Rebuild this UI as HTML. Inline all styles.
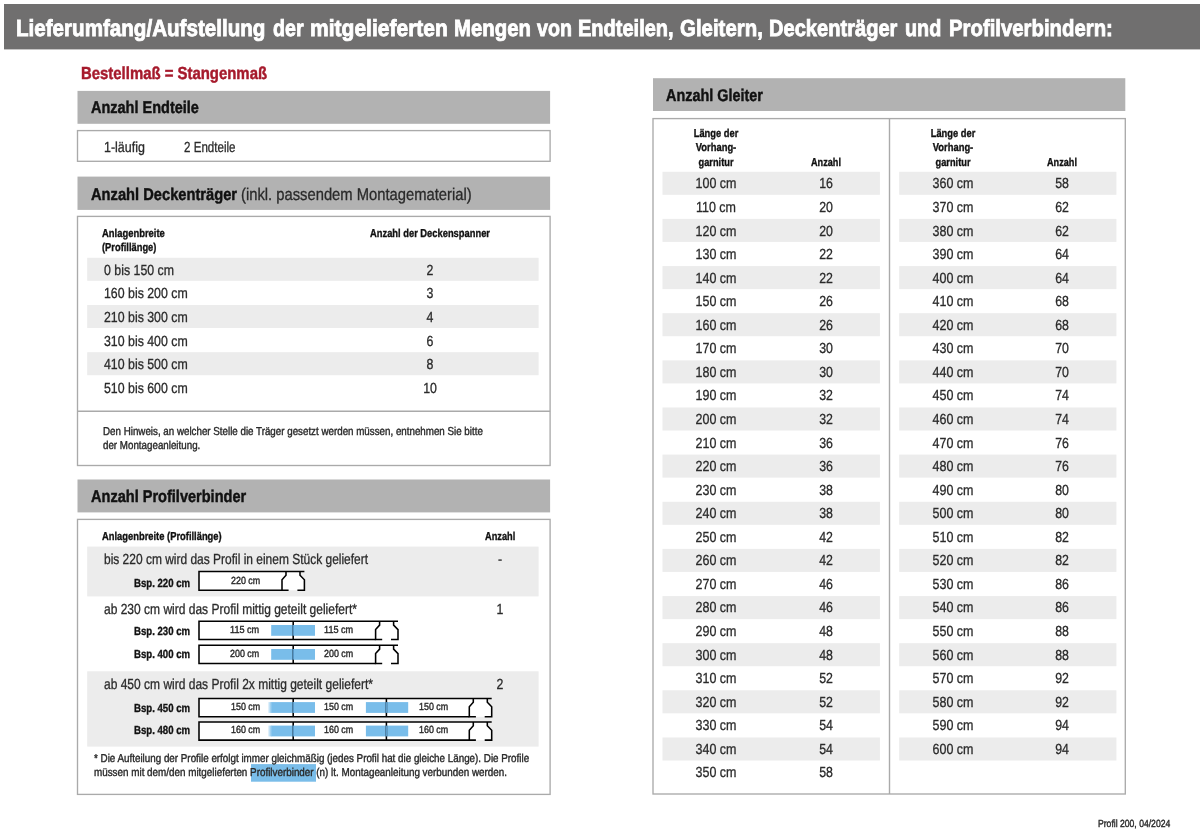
<!DOCTYPE html><html lang="de"><head><meta charset="utf-8"><title>Lieferumfang</title><style>
*{margin:0;padding:0;box-sizing:border-box}
html,body{width:1200px;height:833px;background:#fff;overflow:hidden}
body{position:relative;font-family:"Liberation Sans",sans-serif;color:#2a2a2a}
span.t,svg{position:absolute}
.t{white-space:nowrap;line-height:1;text-rendering:geometricPrecision;transform-origin:0 50%}
.t.c{transform-origin:50% 50%}
.t{-webkit-text-stroke:.3px currentColor}
.s{-webkit-text-stroke-width:.4px}
.b{font-weight:bold;color:#111;-webkit-text-stroke-width:.35px}
.h{-webkit-text-stroke-width:.45px}
.tt{-webkit-text-stroke-width:.85px}
.ban{fill:#706f6f}
.hd{fill:#b2b2b2}
.bx{fill:#fff;stroke:#aaa;stroke-width:1.35}
.ln{fill:#aaa}
.st{fill:#ececec}
.hl{fill:#7abde9}
.pw{fill:#fff;stroke:none}
.pl{fill:none;stroke:#000;stroke-width:1.55}
.pb{fill:#79bdea}
.pg{fill:url(#g)}
.pd{fill:none;stroke:#5b9ccc;stroke-width:1.55}

</style></head><body>
<svg width="1200" height="833" viewBox="0 0 1200 833" style="left:0;top:0"><defs><linearGradient id="g"><stop offset="0" stop-color="#79bdea" stop-opacity="0"/><stop offset="1" stop-color="#79bdea"/></linearGradient></defs>
<rect class="ban" x="4.0" y="4.0" width="1196.0" height="45.4"/>
<rect class="hd" x="77.5" y="90.9" width="472.6" height="32.9"/>
<rect class="hd" x="77.5" y="176.6" width="472.6" height="33.3"/>
<rect class="hd" x="77.5" y="479.5" width="472.6" height="32.9"/>
<rect class="bx" x="77.5" y="130.6" width="472.6" height="30.7"/>
<rect class="bx" x="77.5" y="216.4" width="472.6" height="249.1"/>
<rect class="ln" x="77.5" y="410.5" width="472.6" height="1.5"/>
<rect class="st" x="87.2" y="257.8" width="451.4" height="23.0"/>
<rect class="st" x="87.2" y="305.0" width="451.4" height="23.0"/>
<rect class="st" x="87.2" y="352.2" width="451.4" height="23.0"/>
<rect class="bx" x="77.5" y="519.4" width="472.6" height="275.0"/>
<rect class="st" x="87.2" y="546.6" width="451.4" height="49.8"/>
<rect class="st" x="87.2" y="671.3" width="451.4" height="75.3"/>
<rect class="hl" x="251.0" y="764.1" width="65.0" height="17.6"/>
<rect class="hd" x="653.0" y="78.2" width="472.3" height="32.8"/>
<rect class="bx" x="653.0" y="118.6" width="472.3" height="675.4"/>
<rect class="ln" x="888.8" y="118.6" width="1.4" height="675.4"/>
<rect class="st" x="662.5" y="171.8" width="217.4" height="23.0"/>
<rect class="st" x="662.5" y="218.9" width="217.4" height="23.0"/>
<rect class="st" x="662.5" y="266.1" width="217.4" height="23.0"/>
<rect class="st" x="662.5" y="313.2" width="217.4" height="23.0"/>
<rect class="st" x="662.5" y="360.4" width="217.4" height="23.0"/>
<rect class="st" x="662.5" y="407.5" width="217.4" height="23.0"/>
<rect class="st" x="662.5" y="454.6" width="217.4" height="23.0"/>
<rect class="st" x="662.5" y="501.8" width="217.4" height="23.0"/>
<rect class="st" x="662.5" y="548.9" width="217.4" height="23.0"/>
<rect class="st" x="662.5" y="596.1" width="217.4" height="23.0"/>
<rect class="st" x="662.5" y="643.2" width="217.4" height="23.0"/>
<rect class="st" x="662.5" y="690.3" width="217.4" height="23.0"/>
<rect class="st" x="662.5" y="737.5" width="217.4" height="23.0"/>
<rect class="st" x="899.2" y="171.8" width="217.2" height="23.0"/>
<rect class="st" x="899.2" y="218.9" width="217.2" height="23.0"/>
<rect class="st" x="899.2" y="266.1" width="217.2" height="23.0"/>
<rect class="st" x="899.2" y="313.2" width="217.2" height="23.0"/>
<rect class="st" x="899.2" y="360.4" width="217.2" height="23.0"/>
<rect class="st" x="899.2" y="407.5" width="217.2" height="23.0"/>
<rect class="st" x="899.2" y="454.6" width="217.2" height="23.0"/>
<rect class="st" x="899.2" y="501.8" width="217.2" height="23.0"/>
<rect class="st" x="899.2" y="548.9" width="217.2" height="23.0"/>
<rect class="st" x="899.2" y="596.1" width="217.2" height="23.0"/>
<rect class="st" x="899.2" y="643.2" width="217.2" height="23.0"/>
<rect class="st" x="899.2" y="690.3" width="217.2" height="23.0"/>
<rect class="st" x="899.2" y="737.5" width="217.2" height="23.0"/>
<path class="pw" d="M199.0 571.5H300.0V575.3L304.4 579.8V590.2H199.0Z"/><path class="pl" d="M282.0 590.2H199.0V571.5H304.4"/><path class="pl" d="M286.0 571.5V575.3L282.0 579.8V590.2H288.6"/><path class="pl" d="M300.0 571.5V575.3L304.4 579.8V590.2H297.4"/>
<path class="pw" d="M199.0 621.3H393.6V625.1L398.0 629.6V639.5H199.0Z"/><rect class="pb" x="271.5" y="625.0" width="43.5" height="10.8"/><rect class="pg" x="270.5" y="625.0" width="1.3" height="10.8"/><path class="pl" d="M293.2 621.3V639.5"/><path class="pd" d="M293.2 625.0V635.8"/><path class="pl" d="M375.6 639.5H199.0V621.3H398.0"/><path class="pl" d="M379.6 621.3V625.1L375.6 629.6V639.5H382.2"/><path class="pl" d="M393.6 621.3V625.1L398.0 629.6V639.5H391.0"/>
<path class="pw" d="M199.0 645.3H393.6V649.1L398.0 653.6V663.5H199.0Z"/><rect class="pb" x="271.5" y="649.0" width="43.5" height="10.8"/><rect class="pg" x="270.5" y="649.0" width="1.3" height="10.8"/><path class="pl" d="M293.2 645.3V663.5"/><path class="pd" d="M293.2 649.0V659.8"/><path class="pl" d="M375.6 663.5H199.0V645.3H398.0"/><path class="pl" d="M379.6 645.3V649.1L375.6 653.6V663.5H382.2"/><path class="pl" d="M393.6 645.3V649.1L398.0 653.6V663.5H391.0"/>
<path class="pw" d="M199.0 698.4H487.3V702.2L491.7 706.7V716.8H199.0Z"/><rect class="pb" x="271.5" y="702.1" width="43.5" height="10.8"/><rect class="pg" x="267.5" y="702.1" width="4.3" height="10.8"/><path class="pl" d="M293.2 698.4V716.8"/><path class="pd" d="M293.2 702.1V712.9"/><rect class="pb" x="365.9" y="702.1" width="42.3" height="10.8"/><path class="pl" d="M386.4 698.4V716.8"/><path class="pd" d="M386.4 702.1V712.9"/><path class="pl" d="M469.3 716.8H199.0V698.4H491.7"/><path class="pl" d="M473.3 698.4V702.2L469.3 706.7V716.8H475.9"/><path class="pl" d="M487.3 698.4V702.2L491.7 706.7V716.8H484.7"/>
<path class="pw" d="M199.0 721.9H487.3V725.7L491.7 730.2V740.1H199.0Z"/><rect class="pb" x="271.5" y="725.6" width="43.5" height="10.8"/><rect class="pg" x="267.5" y="725.6" width="4.3" height="10.8"/><path class="pl" d="M293.2 721.9V740.1"/><path class="pd" d="M293.2 725.6V736.4"/><rect class="pb" x="365.9" y="725.6" width="42.3" height="10.8"/><path class="pl" d="M386.4 721.9V740.1"/><path class="pd" d="M386.4 725.6V736.4"/><path class="pl" d="M469.3 740.1H199.0V721.9H491.7"/><path class="pl" d="M473.3 721.9V725.7L469.3 730.2V740.1H475.9"/><path class="pl" d="M487.3 721.9V725.7L491.7 730.2V740.1H484.7"/>
</svg>
<span class="t b tt" style="left:16.0px;top:17px;font-size:23.2px;color:#fff;transform:scaleX(0.8882)">Lieferumfang/Aufstellung</span>
<span class="t b tt" style="left:272.7px;top:17px;font-size:23.2px;color:#fff;transform:scaleX(0.8486)">der</span>
<span class="t b tt" style="left:309.9px;top:17px;font-size:23.2px;color:#fff;transform:scaleX(0.9067)">mitgelieferten</span>
<span class="t b tt" style="left:454.1px;top:17px;font-size:23.2px;color:#fff;transform:scaleX(0.8779)">Mengen</span>
<span class="t b tt" style="left:536.9px;top:17px;font-size:23.2px;color:#fff;transform:scaleX(0.8462)">von</span>
<span class="t b tt" style="left:578.3px;top:17px;font-size:23.2px;color:#fff;transform:scaleX(0.8629)">Endteilen,</span>
<span class="t b tt" style="left:680.4px;top:17px;font-size:23.2px;color:#fff;transform:scaleX(0.8810)">Gleitern,</span>
<span class="t b tt" style="left:769.1px;top:17px;font-size:23.2px;color:#fff;transform:scaleX(0.8662)">Deckenträger</span>
<span class="t b tt" style="left:905.1px;top:17px;font-size:23.2px;color:#fff;transform:scaleX(0.8530)">und</span>
<span class="t b tt" style="left:948.9px;top:17px;font-size:23.2px;color:#fff;transform:scaleX(0.8773)">Profilverbindern:</span>
<span class="t b h" style="left:80.9px;top:65px;font-size:17.4px;color:#a61a2c;transform:scaleX(0.8574)">Bestellmaß = Stangenmaß</span>
<span class="t b h" style="left:90.7px;top:99px;font-size:17px;transform:scaleX(0.8524)">Anzahl Endteile</span>
<span class="t b h" style="left:90.7px;top:186px;font-size:17px;transform:scaleX(0.8637)">Anzahl Deckenträger</span>
<span class="t" style="left:241.2px;top:186px;font-size:17px;transform:scaleX(0.8687)">(inkl. passendem Montagematerial)</span>
<span class="t b h" style="left:90.5px;top:488px;font-size:17px;transform:scaleX(0.8556)">Anzahl Profilverbinder</span>
<span class="t" style="left:103.5px;top:141px;font-size:14.6px;transform:scaleX(0.8535)">1-läufig</span>
<span class="t" style="left:183.6px;top:141px;font-size:14.6px;transform:scaleX(0.7933)">2 Endteile</span>
<span class="t b" style="left:101.7px;top:229px;font-size:11.5px;transform:scaleX(0.8193)">Anlagenbreite</span>
<span class="t b" style="left:101.7px;top:243px;font-size:11.5px;transform:scaleX(0.8103)">(Profillänge)</span>
<span class="t b" style="left:369.8px;top:229px;font-size:11.5px;transform:scaleX(0.8127)">Anzahl der Deckenspanner</span>
<span class="t" style="left:104.2px;top:264px;font-size:14.6px;transform:scaleX(0.8460)">0 bis 150 cm</span>
<span class="t c" style="left:430.0px;top:264px;font-size:14.6px;transform:translateX(-50%) scaleX(0.8460)">2</span>
<span class="t" style="left:104.2px;top:287px;font-size:14.6px;transform:scaleX(0.8460)">160 bis 200 cm</span>
<span class="t c" style="left:430.0px;top:287px;font-size:14.6px;transform:translateX(-50%) scaleX(0.8460)">3</span>
<span class="t" style="left:104.2px;top:311px;font-size:14.6px;transform:scaleX(0.8460)">210 bis 300 cm</span>
<span class="t c" style="left:430.0px;top:311px;font-size:14.6px;transform:translateX(-50%) scaleX(0.8460)">4</span>
<span class="t" style="left:104.2px;top:335px;font-size:14.6px;transform:scaleX(0.8460)">310 bis 400 cm</span>
<span class="t c" style="left:430.0px;top:335px;font-size:14.6px;transform:translateX(-50%) scaleX(0.8460)">6</span>
<span class="t" style="left:104.2px;top:358px;font-size:14.6px;transform:scaleX(0.8460)">410 bis 500 cm</span>
<span class="t c" style="left:430.0px;top:358px;font-size:14.6px;transform:translateX(-50%) scaleX(0.8460)">8</span>
<span class="t" style="left:104.2px;top:382px;font-size:14.6px;transform:scaleX(0.8460)">510 bis 600 cm</span>
<span class="t c" style="left:430.0px;top:382px;font-size:14.6px;transform:translateX(-50%) scaleX(0.8460)">10</span>
<span class="t s" style="left:102.8px;top:427px;font-size:11.5px;transform:scaleX(0.8501)">Den Hinweis, an welcher Stelle die Träger gesetzt werden müssen, entnehmen Sie bitte</span>
<span class="t s" style="left:102.8px;top:441px;font-size:11.5px;transform:scaleX(0.8500)">der Montageanleitung.</span>
<span class="t b" style="left:101.6px;top:532px;font-size:11.5px;transform:scaleX(0.8142)">Anlagenbreite (Profillänge)</span>
<span class="t b" style="left:485.1px;top:532px;font-size:11.5px;transform:scaleX(0.8027)">Anzahl</span>
<span class="t" style="left:104.0px;top:553px;font-size:14.6px;transform:scaleX(0.8200)">bis 220 cm wird das Profil in einem Stück geliefert</span>
<span class="t c" style="left:500.3px;top:553px;font-size:14.6px;transform:translateX(-50%) scaleX(0.8460)">-</span>
<span class="t" style="left:104.0px;top:603px;font-size:14.6px;transform:scaleX(0.8228)">ab 230 cm wird das Profil mittig geteilt geliefert*</span>
<span class="t c" style="left:499.5px;top:603px;font-size:14.6px;transform:translateX(-50%) scaleX(0.8460)">1</span>
<span class="t" style="left:104.0px;top:678px;font-size:14.6px;transform:scaleX(0.8227)">ab 450 cm wird das Profil 2x mittig geteilt geliefert*</span>
<span class="t c" style="left:500.0px;top:678px;font-size:14.6px;transform:translateX(-50%) scaleX(0.8460)">2</span>
<span class="t b" style="left:133.5px;top:578px;font-size:11.8px;transform:scaleX(0.8148)">Bsp. 220 cm</span>
<span class="t b" style="left:133.5px;top:626px;font-size:11.8px;transform:scaleX(0.8148)">Bsp. 230 cm</span>
<span class="t b" style="left:133.5px;top:649px;font-size:11.8px;transform:scaleX(0.8148)">Bsp. 400 cm</span>
<span class="t b" style="left:133.5px;top:703px;font-size:11.8px;transform:scaleX(0.8148)">Bsp. 450 cm</span>
<span class="t b" style="left:133.5px;top:725px;font-size:11.8px;transform:scaleX(0.8148)">Bsp. 480 cm</span>
<span class="t s" style="left:93.5px;top:754px;font-size:11.5px;transform:scaleX(0.8541)">* Die Aufteilung der Profile erfolgt immer gleichmäßig (jedes Profil hat die gleiche Länge). Die Profile</span>
<span class="t s" style="left:93.5px;top:768px;font-size:11.5px;transform:scaleX(0.8568)">müssen mit dem/den mitgelieferten Profilverbinder (n) lt. Montageanleitung verbunden werden.</span>
<span class="t s" style="left:230.6px;top:577px;font-size:10.3px;transform:scaleX(0.8647)">220 cm</span>
<span class="t s" style="left:230.3px;top:626px;font-size:10.3px;transform:scaleX(0.8851)">115 cm</span>
<span class="t s" style="left:324.3px;top:626px;font-size:10.3px;transform:scaleX(0.8851)">115 cm</span>
<span class="t s" style="left:230.0px;top:650px;font-size:10.3px;transform:scaleX(0.8647)">200 cm</span>
<span class="t s" style="left:324.0px;top:650px;font-size:10.3px;transform:scaleX(0.8647)">200 cm</span>
<span class="t s" style="left:230.8px;top:703px;font-size:10.3px;transform:scaleX(0.8647)">150 cm</span>
<span class="t s" style="left:324.0px;top:703px;font-size:10.3px;transform:scaleX(0.8647)">150 cm</span>
<span class="t s" style="left:418.7px;top:703px;font-size:10.3px;transform:scaleX(0.8647)">150 cm</span>
<span class="t s" style="left:230.8px;top:726px;font-size:10.3px;transform:scaleX(0.8647)">160 cm</span>
<span class="t s" style="left:324.0px;top:726px;font-size:10.3px;transform:scaleX(0.8647)">160 cm</span>
<span class="t s" style="left:418.7px;top:726px;font-size:10.3px;transform:scaleX(0.8647)">160 cm</span>
<span class="t b h" style="left:665.9px;top:87px;font-size:17px;transform:scaleX(0.8467)">Anzahl Gleiter</span>
<span class="t b c" style="left:716.3px;top:129px;font-size:11.5px;transform:translateX(-50%) scaleX(0.8111)">Länge der</span>
<span class="t b c" style="left:716.3px;top:143px;font-size:11.5px;transform:translateX(-50%) scaleX(0.8155)">Vorhang-</span>
<span class="t b c" style="left:716.3px;top:158px;font-size:11.5px;transform:translateX(-50%) scaleX(0.8051)">garnitur</span>
<span class="t b c" style="left:825.5px;top:158px;font-size:11.5px;transform:translateX(-50%) scaleX(0.7947)">Anzahl</span>
<span class="t c" style="left:716.3px;top:177px;font-size:14.6px;transform:translateX(-50%) scaleX(0.8550)">100 cm</span>
<span class="t c" style="left:825.5px;top:177px;font-size:14.6px;transform:translateX(-50%) scaleX(0.8460)">16</span>
<span class="t c" style="left:716.3px;top:201px;font-size:14.6px;transform:translateX(-50%) scaleX(0.8550)">110 cm</span>
<span class="t c" style="left:825.5px;top:201px;font-size:14.6px;transform:translateX(-50%) scaleX(0.8460)">20</span>
<span class="t c" style="left:716.3px;top:225px;font-size:14.6px;transform:translateX(-50%) scaleX(0.8550)">120 cm</span>
<span class="t c" style="left:825.5px;top:225px;font-size:14.6px;transform:translateX(-50%) scaleX(0.8460)">20</span>
<span class="t c" style="left:716.3px;top:248px;font-size:14.6px;transform:translateX(-50%) scaleX(0.8550)">130 cm</span>
<span class="t c" style="left:825.5px;top:248px;font-size:14.6px;transform:translateX(-50%) scaleX(0.8460)">22</span>
<span class="t c" style="left:716.3px;top:272px;font-size:14.6px;transform:translateX(-50%) scaleX(0.8550)">140 cm</span>
<span class="t c" style="left:825.5px;top:272px;font-size:14.6px;transform:translateX(-50%) scaleX(0.8460)">22</span>
<span class="t c" style="left:716.3px;top:295px;font-size:14.6px;transform:translateX(-50%) scaleX(0.8550)">150 cm</span>
<span class="t c" style="left:825.5px;top:295px;font-size:14.6px;transform:translateX(-50%) scaleX(0.8460)">26</span>
<span class="t c" style="left:716.3px;top:319px;font-size:14.6px;transform:translateX(-50%) scaleX(0.8550)">160 cm</span>
<span class="t c" style="left:825.5px;top:319px;font-size:14.6px;transform:translateX(-50%) scaleX(0.8460)">26</span>
<span class="t c" style="left:716.3px;top:342px;font-size:14.6px;transform:translateX(-50%) scaleX(0.8550)">170 cm</span>
<span class="t c" style="left:825.5px;top:342px;font-size:14.6px;transform:translateX(-50%) scaleX(0.8460)">30</span>
<span class="t c" style="left:716.3px;top:366px;font-size:14.6px;transform:translateX(-50%) scaleX(0.8550)">180 cm</span>
<span class="t c" style="left:825.5px;top:366px;font-size:14.6px;transform:translateX(-50%) scaleX(0.8460)">30</span>
<span class="t c" style="left:716.3px;top:389px;font-size:14.6px;transform:translateX(-50%) scaleX(0.8550)">190 cm</span>
<span class="t c" style="left:825.5px;top:389px;font-size:14.6px;transform:translateX(-50%) scaleX(0.8460)">32</span>
<span class="t c" style="left:716.3px;top:413px;font-size:14.6px;transform:translateX(-50%) scaleX(0.8550)">200 cm</span>
<span class="t c" style="left:825.5px;top:413px;font-size:14.6px;transform:translateX(-50%) scaleX(0.8460)">32</span>
<span class="t c" style="left:716.3px;top:437px;font-size:14.6px;transform:translateX(-50%) scaleX(0.8550)">210 cm</span>
<span class="t c" style="left:825.5px;top:437px;font-size:14.6px;transform:translateX(-50%) scaleX(0.8460)">36</span>
<span class="t c" style="left:716.3px;top:460px;font-size:14.6px;transform:translateX(-50%) scaleX(0.8550)">220 cm</span>
<span class="t c" style="left:825.5px;top:460px;font-size:14.6px;transform:translateX(-50%) scaleX(0.8460)">36</span>
<span class="t c" style="left:716.3px;top:484px;font-size:14.6px;transform:translateX(-50%) scaleX(0.8550)">230 cm</span>
<span class="t c" style="left:825.5px;top:484px;font-size:14.6px;transform:translateX(-50%) scaleX(0.8460)">38</span>
<span class="t c" style="left:716.3px;top:507px;font-size:14.6px;transform:translateX(-50%) scaleX(0.8550)">240 cm</span>
<span class="t c" style="left:825.5px;top:507px;font-size:14.6px;transform:translateX(-50%) scaleX(0.8460)">38</span>
<span class="t c" style="left:716.3px;top:531px;font-size:14.6px;transform:translateX(-50%) scaleX(0.8550)">250 cm</span>
<span class="t c" style="left:825.5px;top:531px;font-size:14.6px;transform:translateX(-50%) scaleX(0.8460)">42</span>
<span class="t c" style="left:716.3px;top:554px;font-size:14.6px;transform:translateX(-50%) scaleX(0.8550)">260 cm</span>
<span class="t c" style="left:825.5px;top:554px;font-size:14.6px;transform:translateX(-50%) scaleX(0.8460)">42</span>
<span class="t c" style="left:716.3px;top:578px;font-size:14.6px;transform:translateX(-50%) scaleX(0.8550)">270 cm</span>
<span class="t c" style="left:825.5px;top:578px;font-size:14.6px;transform:translateX(-50%) scaleX(0.8460)">46</span>
<span class="t c" style="left:716.3px;top:601px;font-size:14.6px;transform:translateX(-50%) scaleX(0.8550)">280 cm</span>
<span class="t c" style="left:825.5px;top:601px;font-size:14.6px;transform:translateX(-50%) scaleX(0.8460)">46</span>
<span class="t c" style="left:716.3px;top:625px;font-size:14.6px;transform:translateX(-50%) scaleX(0.8550)">290 cm</span>
<span class="t c" style="left:825.5px;top:625px;font-size:14.6px;transform:translateX(-50%) scaleX(0.8460)">48</span>
<span class="t c" style="left:716.3px;top:649px;font-size:14.6px;transform:translateX(-50%) scaleX(0.8550)">300 cm</span>
<span class="t c" style="left:825.5px;top:649px;font-size:14.6px;transform:translateX(-50%) scaleX(0.8460)">48</span>
<span class="t c" style="left:716.3px;top:672px;font-size:14.6px;transform:translateX(-50%) scaleX(0.8550)">310 cm</span>
<span class="t c" style="left:825.5px;top:672px;font-size:14.6px;transform:translateX(-50%) scaleX(0.8460)">52</span>
<span class="t c" style="left:716.3px;top:696px;font-size:14.6px;transform:translateX(-50%) scaleX(0.8550)">320 cm</span>
<span class="t c" style="left:825.5px;top:696px;font-size:14.6px;transform:translateX(-50%) scaleX(0.8460)">52</span>
<span class="t c" style="left:716.3px;top:719px;font-size:14.6px;transform:translateX(-50%) scaleX(0.8550)">330 cm</span>
<span class="t c" style="left:825.5px;top:719px;font-size:14.6px;transform:translateX(-50%) scaleX(0.8460)">54</span>
<span class="t c" style="left:716.3px;top:743px;font-size:14.6px;transform:translateX(-50%) scaleX(0.8550)">340 cm</span>
<span class="t c" style="left:825.5px;top:743px;font-size:14.6px;transform:translateX(-50%) scaleX(0.8460)">54</span>
<span class="t c" style="left:716.3px;top:766px;font-size:14.6px;transform:translateX(-50%) scaleX(0.8550)">350 cm</span>
<span class="t c" style="left:825.5px;top:766px;font-size:14.6px;transform:translateX(-50%) scaleX(0.8460)">58</span>
<span class="t b c" style="left:952.9px;top:129px;font-size:11.5px;transform:translateX(-50%) scaleX(0.8111)">Länge der</span>
<span class="t b c" style="left:952.9px;top:143px;font-size:11.5px;transform:translateX(-50%) scaleX(0.8155)">Vorhang-</span>
<span class="t b c" style="left:952.9px;top:158px;font-size:11.5px;transform:translateX(-50%) scaleX(0.8051)">garnitur</span>
<span class="t b c" style="left:1061.7px;top:158px;font-size:11.5px;transform:translateX(-50%) scaleX(0.7947)">Anzahl</span>
<span class="t c" style="left:952.9px;top:177px;font-size:14.6px;transform:translateX(-50%) scaleX(0.8550)">360 cm</span>
<span class="t c" style="left:1061.7px;top:177px;font-size:14.6px;transform:translateX(-50%) scaleX(0.8460)">58</span>
<span class="t c" style="left:952.9px;top:201px;font-size:14.6px;transform:translateX(-50%) scaleX(0.8550)">370 cm</span>
<span class="t c" style="left:1061.7px;top:201px;font-size:14.6px;transform:translateX(-50%) scaleX(0.8460)">62</span>
<span class="t c" style="left:952.9px;top:225px;font-size:14.6px;transform:translateX(-50%) scaleX(0.8550)">380 cm</span>
<span class="t c" style="left:1061.7px;top:225px;font-size:14.6px;transform:translateX(-50%) scaleX(0.8460)">62</span>
<span class="t c" style="left:952.9px;top:248px;font-size:14.6px;transform:translateX(-50%) scaleX(0.8550)">390 cm</span>
<span class="t c" style="left:1061.7px;top:248px;font-size:14.6px;transform:translateX(-50%) scaleX(0.8460)">64</span>
<span class="t c" style="left:952.9px;top:272px;font-size:14.6px;transform:translateX(-50%) scaleX(0.8550)">400 cm</span>
<span class="t c" style="left:1061.7px;top:272px;font-size:14.6px;transform:translateX(-50%) scaleX(0.8460)">64</span>
<span class="t c" style="left:952.9px;top:295px;font-size:14.6px;transform:translateX(-50%) scaleX(0.8550)">410 cm</span>
<span class="t c" style="left:1061.7px;top:295px;font-size:14.6px;transform:translateX(-50%) scaleX(0.8460)">68</span>
<span class="t c" style="left:952.9px;top:319px;font-size:14.6px;transform:translateX(-50%) scaleX(0.8550)">420 cm</span>
<span class="t c" style="left:1061.7px;top:319px;font-size:14.6px;transform:translateX(-50%) scaleX(0.8460)">68</span>
<span class="t c" style="left:952.9px;top:342px;font-size:14.6px;transform:translateX(-50%) scaleX(0.8550)">430 cm</span>
<span class="t c" style="left:1061.7px;top:342px;font-size:14.6px;transform:translateX(-50%) scaleX(0.8460)">70</span>
<span class="t c" style="left:952.9px;top:366px;font-size:14.6px;transform:translateX(-50%) scaleX(0.8550)">440 cm</span>
<span class="t c" style="left:1061.7px;top:366px;font-size:14.6px;transform:translateX(-50%) scaleX(0.8460)">70</span>
<span class="t c" style="left:952.9px;top:389px;font-size:14.6px;transform:translateX(-50%) scaleX(0.8550)">450 cm</span>
<span class="t c" style="left:1061.7px;top:389px;font-size:14.6px;transform:translateX(-50%) scaleX(0.8460)">74</span>
<span class="t c" style="left:952.9px;top:413px;font-size:14.6px;transform:translateX(-50%) scaleX(0.8550)">460 cm</span>
<span class="t c" style="left:1061.7px;top:413px;font-size:14.6px;transform:translateX(-50%) scaleX(0.8460)">74</span>
<span class="t c" style="left:952.9px;top:437px;font-size:14.6px;transform:translateX(-50%) scaleX(0.8550)">470 cm</span>
<span class="t c" style="left:1061.7px;top:437px;font-size:14.6px;transform:translateX(-50%) scaleX(0.8460)">76</span>
<span class="t c" style="left:952.9px;top:460px;font-size:14.6px;transform:translateX(-50%) scaleX(0.8550)">480 cm</span>
<span class="t c" style="left:1061.7px;top:460px;font-size:14.6px;transform:translateX(-50%) scaleX(0.8460)">76</span>
<span class="t c" style="left:952.9px;top:484px;font-size:14.6px;transform:translateX(-50%) scaleX(0.8550)">490 cm</span>
<span class="t c" style="left:1061.7px;top:484px;font-size:14.6px;transform:translateX(-50%) scaleX(0.8460)">80</span>
<span class="t c" style="left:952.9px;top:507px;font-size:14.6px;transform:translateX(-50%) scaleX(0.8550)">500 cm</span>
<span class="t c" style="left:1061.7px;top:507px;font-size:14.6px;transform:translateX(-50%) scaleX(0.8460)">80</span>
<span class="t c" style="left:952.9px;top:531px;font-size:14.6px;transform:translateX(-50%) scaleX(0.8550)">510 cm</span>
<span class="t c" style="left:1061.7px;top:531px;font-size:14.6px;transform:translateX(-50%) scaleX(0.8460)">82</span>
<span class="t c" style="left:952.9px;top:554px;font-size:14.6px;transform:translateX(-50%) scaleX(0.8550)">520 cm</span>
<span class="t c" style="left:1061.7px;top:554px;font-size:14.6px;transform:translateX(-50%) scaleX(0.8460)">82</span>
<span class="t c" style="left:952.9px;top:578px;font-size:14.6px;transform:translateX(-50%) scaleX(0.8550)">530 cm</span>
<span class="t c" style="left:1061.7px;top:578px;font-size:14.6px;transform:translateX(-50%) scaleX(0.8460)">86</span>
<span class="t c" style="left:952.9px;top:601px;font-size:14.6px;transform:translateX(-50%) scaleX(0.8550)">540 cm</span>
<span class="t c" style="left:1061.7px;top:601px;font-size:14.6px;transform:translateX(-50%) scaleX(0.8460)">86</span>
<span class="t c" style="left:952.9px;top:625px;font-size:14.6px;transform:translateX(-50%) scaleX(0.8550)">550 cm</span>
<span class="t c" style="left:1061.7px;top:625px;font-size:14.6px;transform:translateX(-50%) scaleX(0.8460)">88</span>
<span class="t c" style="left:952.9px;top:649px;font-size:14.6px;transform:translateX(-50%) scaleX(0.8550)">560 cm</span>
<span class="t c" style="left:1061.7px;top:649px;font-size:14.6px;transform:translateX(-50%) scaleX(0.8460)">88</span>
<span class="t c" style="left:952.9px;top:672px;font-size:14.6px;transform:translateX(-50%) scaleX(0.8550)">570 cm</span>
<span class="t c" style="left:1061.7px;top:672px;font-size:14.6px;transform:translateX(-50%) scaleX(0.8460)">92</span>
<span class="t c" style="left:952.9px;top:696px;font-size:14.6px;transform:translateX(-50%) scaleX(0.8550)">580 cm</span>
<span class="t c" style="left:1061.7px;top:696px;font-size:14.6px;transform:translateX(-50%) scaleX(0.8460)">92</span>
<span class="t c" style="left:952.9px;top:719px;font-size:14.6px;transform:translateX(-50%) scaleX(0.8550)">590 cm</span>
<span class="t c" style="left:1061.7px;top:719px;font-size:14.6px;transform:translateX(-50%) scaleX(0.8460)">94</span>
<span class="t c" style="left:952.9px;top:743px;font-size:14.6px;transform:translateX(-50%) scaleX(0.8550)">600 cm</span>
<span class="t c" style="left:1061.7px;top:743px;font-size:14.6px;transform:translateX(-50%) scaleX(0.8460)">94</span>
<span class="t s" style="left:1097.5px;top:820px;font-size:10.3px;transform:scaleX(0.8361)">Profil 200, 04/2024</span>
</body></html>
